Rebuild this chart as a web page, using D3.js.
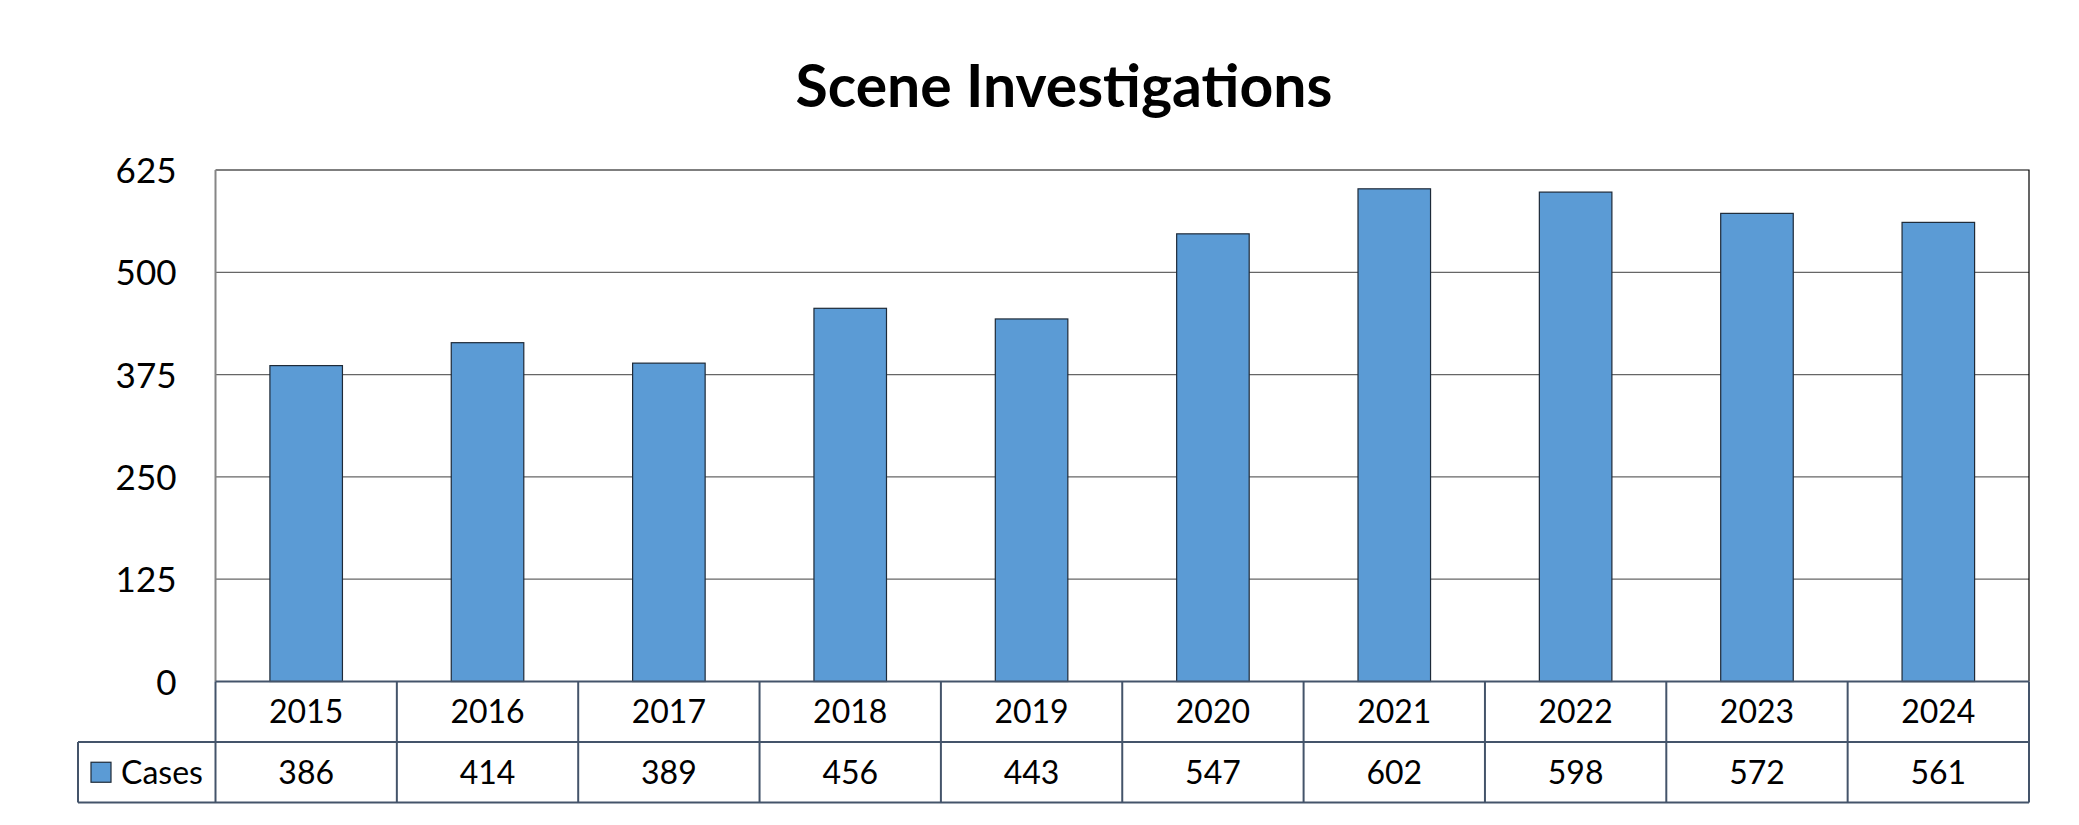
<!DOCTYPE html>
<html>
<head>
<meta charset="utf-8">
<script src="https://cdn.jsdelivr.net/npm/d3@7"></script>
<style>
  body { margin: 0; background: #fff; }
  text { font-family: Lato, "Open Sans", sans-serif; fill: #000; }
</style>
</head>
<body>
<div class="chart__container"></div>
<script>
// data
const years = ['2015', '2016', '2017', '2018', '2019', '2020', '2021', '2022', '2023', '2024'];
const cases = [386, 414, 389, 456, 443, 547, 602, 598, 572, 561];
const yTicks = [0, 125, 250, 375, 500, 625];
const seriesName = 'Cases';
const chartTitle = 'Scene Investigations';

function drawChart() {
    const W = 2079, H = 825;
    const plot = {left: 215.5, right: 2029, top: 170, bottom: 681.5};
    const rowH = 60.5;
    const legendLeft = 78;
    const barColor = '#5b9bd5';
    const tableColor = '#44546a';

    const svg = d3.select('.chart__container')
        .append('svg')
        .attr('width', W)
        .attr('height', H);

    const x = d3.scaleBand()
        .domain(years)
        .range([plot.left, plot.right])
        .padding(0);

    const y = d3.scaleLinear()
        .domain([0, 625])
        .range([plot.bottom, plot.top]);

    // title, scaled so it spans about the same width as the original
    const title = svg.append('text')
        .attr('x', 1064)
        .attr('y', 107)
        .attr('text-anchor', 'middle')
        .style('font-weight', 'bold')
        .style('font-size', '56px')
        .text(chartTitle);
    const tLen = title.node().getComputedTextLength();
    title.style('font-size', (56 * 537 / tLen) + 'px');

    // gridlines (0 is the table edge, 625 is the frame)
    svg.append('g')
        .selectAll('line')
        .data(yTicks.filter(d => d > 0 && d < 625))
        .enter()
        .append('line')
        .attr('x1', plot.left)
        .attr('x2', plot.right)
        .attr('y1', d => y(d))
        .attr('y2', d => y(d))
        .style('stroke', '#666')
        .style('stroke-width', 1.3);

    // frame top + right
    svg.append('path')
        .attr('d', 'M' + plot.left + ',' + y(625) + 'H' + plot.right + 'V' + plot.bottom)
        .style('fill', 'none')
        .style('stroke', '#000')
        .style('stroke-width', 1.2);

    // y axis
    const yAxis = d3.axisLeft(y)
        .tickValues(yTicks)
        .tickSize(0)
        .tickPadding(39);
    const yg = svg.append('g')
        .attr('transform', 'translate(' + plot.left + ',0)')
        .call(yAxis);
    yg.select('.domain').remove();
    yg.selectAll('text')
        .style('font-family', 'Lato, sans-serif')
        .style('font-size', '35px')
        .attr('fill', '#000')
        .attr('dy', '0.36em');

    svg.append('line')
        .attr('x1', plot.left)
        .attr('x2', plot.left)
        .attr('y1', plot.top)
        .attr('y2', plot.bottom)
        .style('stroke', '#868686')
        .style('stroke-width', 2);

    // bars
    const barW = x.bandwidth() * 0.4;
    svg.append('g')
        .selectAll('rect')
        .data(cases)
        .enter()
        .append('rect')
        .attr('x', (d, i) => x(years[i]) + (x.bandwidth() - barW) / 2)
        .attr('y', d => y(d))
        .attr('width', barW)
        .attr('height', d => y(0) - y(d))
        .attr('fill', barColor)
        .attr('stroke', '#1e2a38')
        .attr('stroke-width', 1.2);

    // data table
    const table = svg.append('g')
        .style('fill', 'none')
        .style('stroke', tableColor)
        .style('stroke-width', 2);

    const r1 = plot.bottom, r2 = plot.bottom + rowH, r3 = plot.bottom + 2 * rowH;
    table.append('path')
        .attr('d', 'M' + plot.left + ',' + r1 + 'H' + plot.right +
                   'M' + legendLeft + ',' + r2 + 'H' + plot.right +
                   'M' + legendLeft + ',' + r3 + 'H' + plot.right +
                   'M' + legendLeft + ',' + r2 + 'V' + r3);

    table.selectAll('line.col')
        .data(years.concat(['end']))
        .enter()
        .append('line')
        .attr('class', 'col')
        .attr('x1', (d, i) => i < years.length ? x(d) : plot.right)
        .attr('x2', (d, i) => i < years.length ? x(d) : plot.right)
        .attr('y1', r1)
        .attr('y2', r3);

    svg.append('g')
        .selectAll('text')
        .data(years)
        .enter()
        .append('text')
        .attr('x', d => x(d) + x.bandwidth() / 2)
        .attr('y', (r1 + r2) / 2)
        .attr('dy', '0.36em')
        .attr('text-anchor', 'middle')
        .style('font-size', '32px')
        .text(d => d);

    svg.append('g')
        .selectAll('text')
        .data(cases)
        .enter()
        .append('text')
        .attr('x', (d, i) => x(years[i]) + x.bandwidth() / 2)
        .attr('y', (r2 + r3) / 2)
        .attr('dy', '0.36em')
        .attr('text-anchor', 'middle')
        .style('font-size', '32px')
        .text(d => d);

    // legend key
    svg.append('rect')
        .attr('x', 91)
        .attr('y', (r2 + r3) / 2 - 10)
        .attr('width', 20)
        .attr('height', 20)
        .attr('fill', barColor)
        .attr('stroke', '#1e2a38')
        .attr('stroke-width', 1.2);

    svg.append('text')
        .attr('x', 121)
        .attr('y', (r2 + r3) / 2)
        .attr('dy', '0.36em')
        .style('font-size', '32px')
        .text(seriesName);
}

drawChart();
</script>
</body>
</html>
